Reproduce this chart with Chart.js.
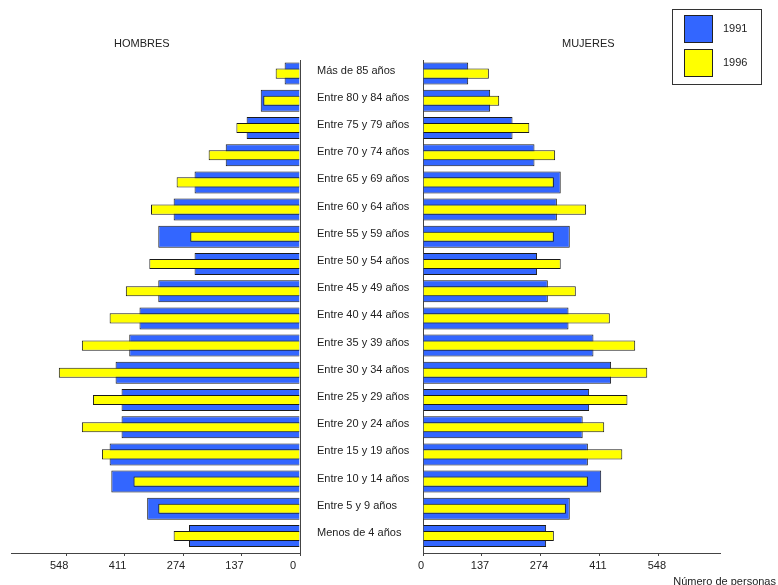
<!DOCTYPE html>
<html lang="es">
<head>
<meta charset="utf-8">
<title>Pirámide de población 1991 - 1996</title>
<script src="https://cdn.jsdelivr.net/npm/chart.js@4/dist/chart.umd.min.js"></script>
<style>
  body {
    margin: 0;
    background: #fff;
  }

  #page {
    position: relative;
    width: 778px;
    height: 585px;
    font-family: 'Liberation Sans', Arial, sans-serif;
    font-size: 11px;
    color: #222;
  }

  canvas {
    position: absolute;
    top: 0;
  }

  #men { left: 0; }
  #women { left: 400px; }

  .text {
    position: absolute;
    white-space: nowrap;
    line-height: 13px;
  }

  #legend {
    position: absolute;
    left: 672px;
    top: 9px;
    width: 90px;
    height: 76px;
    box-sizing: border-box;
    border: 1px solid #333;
  }

  .swatch {
    position: absolute;
    left: 11px;
    width: 29px;
    height: 28px;
    box-sizing: border-box;
    border: 1px solid #222;
  }
</style>
</head>
<body>
<div id="page">
  <canvas id="men" width="423" height="585"></canvas>
  <canvas id="women" width="378" height="585"></canvas>

  <div class="text" style="left: 114px; top: 37px;">HOMBRES</div>
  <div class="text" style="left: 562px; top: 37px;">MUJERES</div>
  <div class="text" style="right: 2px; top: 575px;">Número de personas</div>

  <div id="legend">
    <div class="swatch" style="top: 5px; background: #3366ff;"></div>
    <div class="text" style="left: 50px; top: 12px;">1991</div>
    <div class="swatch" style="top: 39px; background: #ffff00;"></div>
    <div class="text" style="left: 50px; top: 46px;">1996</div>
  </div>
</div>

<script>
  // age groups, top of the pyramid first
  const ageGroups = [
    'Más de 85 años',
    'Entre 80 y 84 años',
    'Entre 75 y 79 años',
    'Entre 70 y 74 años',
    'Entre 65 y 69 años',
    'Entre 60 y 64 años',
    'Entre 55 y 59 años',
    'Entre 50 y 54 años',
    'Entre 45 y 49 años',
    'Entre 40 y 44 años',
    'Entre 35 y 39 años',
    'Entre 30 y 34 años',
    'Entre 25 y 29 años',
    'Entre 20 y 24 años',
    'Entre 15 y 19 años',
    'Entre 10 y 14 años',
    'Entre 5 y 9 años',
    'Menos de 4 años'
  ]

  const men1991 = [36, 92, 125, 174, 247, 296, 332, 247, 332, 376, 400, 432, 418, 418, 446, 442, 358, 260]
  const men1996 = [57, 86, 149, 214, 289, 349, 257, 353, 408, 446, 511, 565, 485, 511, 464, 390, 332, 296]
  const women1991 = [105, 156, 208, 259, 320, 311, 341, 265, 290, 338, 396, 437, 386, 371, 383, 414, 341, 286]
  const women1996 = [153, 177, 247, 307, 304, 379, 304, 320, 355, 434, 493, 521, 475, 421, 463, 383, 332, 304]

  const axisTicks = [0, 137, 274, 411, 548]

  const BLUE = '#3366ff'
  const YELLOW = '#ffff00'
  const EDGE = '#1a1a1a'
  const AXIS = '#444'
  const FONT = { family: "'Liberation Sans', Arial, sans-serif", size: 11 }

  // index axis runs from half a row above the first group to a bit below the last
  const ROW_MIN = -0.5
  const ROW_MAX = 17.625

  const toPoints = (values) => values.map((x, y) => ({ x, y }))

  function datasets (data1991, data1996) {
    return [
      {
        label: '1991',
        data: toPoints(data1991),
        backgroundColor: BLUE,
        borderColor: EDGE,
        borderWidth: 1,
        grouped: false,
        categoryPercentage: 1,
        barPercentage: 0.81,
        order: 1
      },
      {
        label: '1996',
        data: toPoints(data1996),
        backgroundColor: YELLOW,
        borderColor: EDGE,
        borderWidth: 1,
        grouped: false,
        categoryPercentage: 1,
        barPercentage: 0.37,
        order: 0 // yellow sits on top of the blue bar
      }
    ]
  }

  // one side of the pyramid; the men side is mirrored and carries the age labels
  function pyramidSide (canvasId, data1991, data1996, isLeft) {
    const ctx = document.getElementById(canvasId).getContext('2d')
    return new Chart(ctx, {
      type: 'bar',
      data: { datasets: datasets(data1991, data1996) },
      options: {
        indexAxis: 'y',
        responsive: false,
        animation: false,
        layout: {
          padding: isLeft ? { left: 11, top: 60, right: 0, bottom: 0 } : { left: 0, top: 60, right: 58, bottom: 0 }
        },
        plugins: {
          legend: { display: false },
          tooltip: { enabled: false }
        },
        scales: {
          x: {
            type: 'linear',
            reverse: isLeft,
            min: 0,
            max: isLeft ? 677 : 690,
            bounds: 'data',
            afterBuildTicks: (scale) => { scale.ticks = axisTicks.map((value) => ({ value })) },
            afterFit: (scale) => { scale.height = 32 },
            grid: {
              drawOnChartArea: false,
              drawTicks: true,
              tickLength: 3,
              color: AXIS
            },
            border: { display: true, color: AXIS, width: 1 },
            ticks: {
              padding: 3,
              labelOffset: isLeft ? -7 : -2,
              maxRotation: 0,
              font: FONT,
              color: '#222'
            }
          },
          y: {
            type: 'linear',
            position: isLeft ? 'right' : 'left',
            reverse: true,
            offset: false, // bar charts pad the index axis by default
            min: ROW_MIN,
            max: ROW_MAX,
            bounds: 'data',
            afterBuildTicks: (scale) => { scale.ticks = ageGroups.map((_, value) => ({ value })) },
            afterFit: (scale) => { scale.width = isLeft ? 123 : 23 },
            grid: { display: false },
            border: { display: true, color: AXIS, width: 1 },
            ticks: {
              display: isLeft,
              autoSkip: false,
              crossAlign: 'near',
              padding: 9,
              labelOffset: -3,
              font: FONT,
              color: '#222',
              callback: (value) => ageGroups[value]
            }
          }
        }
      }
    })
  }

  pyramidSide('men', men1991, men1996, true)
  pyramidSide('women', women1991, women1996, false)
</script>
</body>
</html>
